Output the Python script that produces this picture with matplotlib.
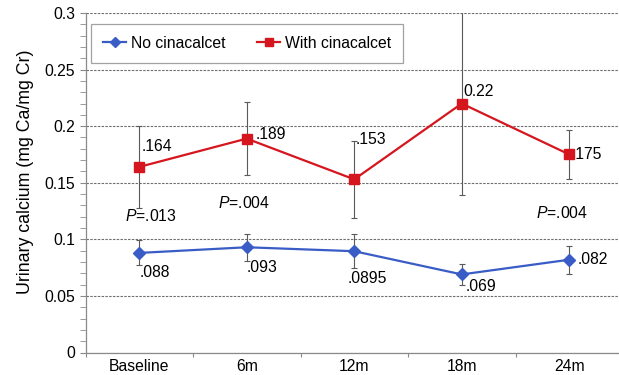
import numpy as np
import matplotlib
matplotlib.use("Agg")
import matplotlib.pyplot as plt
from matplotlib.ticker import MultipleLocator, FixedLocator, NullFormatter, FuncFormatter

plt.rcParams["font.family"] = ["Liberation Sans", "DejaVu Sans"]
plt.rcParams["mathtext.fontset"] = "custom"
plt.rcParams["mathtext.it"] = "Liberation Sans:italic"
plt.rcParams["mathtext.rm"] = "Liberation Sans"

# ── Data ───────────────────────────────────────────────────────────────────
TIMEPOINTS = ["Baseline", "6m", "12m", "18m", "24m"]

NO_CINA      = [0.088, 0.093, 0.0895, 0.069, 0.082]
NO_CINA_ERR  = [0.011, 0.012, 0.015, 0.0095, 0.0125]
NO_CINA_LBL  = [".088", ".093", ".0895", ".069", ".082"]

WITH_CINA     = [0.164, 0.189, 0.153, 0.22, 0.175]
WITH_CINA_ERR = [0.036, 0.032, 0.034, 0.081, 0.022]
WITH_CINA_LBL = [".164", ".189", ".153", "0.22", ".175"]

P_VALUES = [".013", ".004", ".004"]
P_AT     = [0, 1, 4]          # timepoint index of each P value
P_Y      = [0.121, 0.1324, 0.1236]

# label offsets in points (dx, dy) relative to each marker
NO_OFFS   = [(0, -14), (0, -14.5), (-5, -20), (3, -9), (6, 0)]
WITH_OFFS = [(1.5, 14.5), (6.5, 3), (1, 29), (1, 9), (2, 0)]
P_DX      = [0.11, -0.03, -0.065]

BLUE = "#3a5cc6"
RED = "#d6161e"
ERR_GREY = "#5a5a5a"
AX_GREY = "#8a8a8a"
FS = 11.3

# ── Plot ───────────────────────────────────────────────────────────────────
fig = plt.figure(figsize=(6.19, 3.75), dpi=100)
ax = fig.add_axes([85.5 / 619, 22.5 / 375, 537.5 / 619, 339.5 / 375])

x = np.arange(len(TIMEPOINTS))

ax.errorbar(x, WITH_CINA, yerr=WITH_CINA_ERR, fmt="none", ecolor=ERR_GREY,
            elinewidth=0.8, capsize=2.5, capthick=0.8, zorder=3)
ax.errorbar(x, NO_CINA, yerr=NO_CINA_ERR, fmt="none", ecolor=ERR_GREY,
            elinewidth=0.8, capsize=2.5, capthick=0.8, zorder=3)

ax.plot(x, NO_CINA, color=BLUE, marker="D", markersize=6.5, linewidth=1.6,
        label="No cinacalcet", zorder=4)
ax.plot(x, WITH_CINA, color=RED, marker="s", markersize=6.5, linewidth=1.6,
        label="With cinacalcet", zorder=4)

for xi, yi, txt, off in zip(x, NO_CINA, NO_CINA_LBL, NO_OFFS):
    ax.annotate(txt, (xi, yi), xytext=off, textcoords="offset points",
                ha="left", va="center", fontsize=FS)
for xi, yi, txt, off in zip(x, WITH_CINA, WITH_CINA_LBL, WITH_OFFS):
    ax.annotate(txt, (xi, yi), xytext=off, textcoords="offset points",
                ha="left", va="center", fontsize=FS)

for xi, yi, dx, val in zip(P_AT, P_Y, P_DX, P_VALUES):
    ax.text(xi + dx, yi, "$\\mathit{P}$=" + val, ha="center", va="center",
            fontsize=FS)

# axes, grid and ticks
ax.set_xlim(-0.5, len(TIMEPOINTS) - 0.5)
ax.set_ylim(0, 0.3)
ax.yaxis.set_major_locator(MultipleLocator(0.05))
ax.yaxis.set_minor_locator(MultipleLocator(0.01))
ax.yaxis.set_major_formatter(FuncFormatter(lambda v, _: f"{v:.2f}".rstrip("0").rstrip(".") if v else "0"))
ax.xaxis.set_major_locator(FixedLocator(np.arange(-0.5, len(TIMEPOINTS), 1.0)))
ax.xaxis.set_major_formatter(NullFormatter())
ax.xaxis.set_minor_locator(FixedLocator(x))
ax.set_xticklabels(TIMEPOINTS, minor=True)
ax.tick_params(axis="x", which="minor", length=0, labelsize=FS, pad=5)
ax.tick_params(axis="x", which="major", length=3, color=AX_GREY)
ax.tick_params(axis="y", which="both", length=4.3, color=AX_GREY,
               labelsize=FS, pad=3)

ax.yaxis.grid(True, linestyle=(0, (2.2, 1.2)), color="#6e6e6e",
              linewidth=0.8, zorder=0)
ax.set_axisbelow(True)
for side in ("top", "right"):
    ax.spines[side].set_visible(False)
for side in ("left", "bottom"):
    ax.spines[side].set_color(AX_GREY)
    ax.spines[side].set_linewidth(0.9)

ax.set_ylabel("Urinary calcium (mg Ca/mg Cr)", fontsize=12.8)
ax.yaxis.set_label_coords(-0.095, 0.532)

leg = ax.legend(loc="upper left", bbox_to_anchor=(91 / 619, 1 - 24 / 375),
                bbox_transform=fig.transFigure, ncol=2, fontsize=FS,
                frameon=True, fancybox=False, borderaxespad=0,
                handlelength=1.5, handletextpad=0.3, columnspacing=2.0,
                borderpad=0.75, markerscale=0.85)
leg.get_frame().set_edgecolor(AX_GREY)
leg.get_frame().set_linewidth(0.9)

fig.savefig("out.png", dpi=100)
